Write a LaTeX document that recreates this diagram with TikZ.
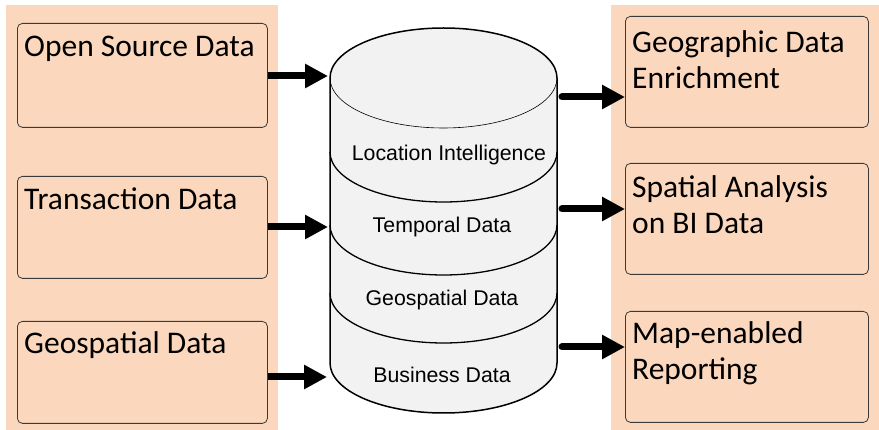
\documentclass[tikz,border=0pt]{standalone}
\usepackage{fontspec}
\setmainfont{Carlito}
\newfontfamily\cylfont{Liberation Sans}
\usetikzlibrary{arrows.meta}
\definecolor{peach}{HTML}{FBD8BD}
\definecolor{drum}{HTML}{F2F2F2}
\definecolor{edge}{HTML}{3A3A3A}
\begin{document}
\begin{tikzpicture}[x=1pt,y=-1pt,
  panel/.style={fill=peach,draw=none},
  srcbox/.style={draw=edge,line width=0.8pt,rounded corners=5pt,fill=peach,
                 minimum width=#1,anchor=north west,inner sep=0pt},
  boxtext/.style={font=\fontsize{31.5}{36.5}\selectfont,anchor=base west,align=left,inner sep=0pt},
  cyltext/.style={font=\cylfont\fontsize{21.3}{25}\selectfont,inner sep=0pt},
  fatarrow/.style={line width=7pt,-{Triangle[length=23pt,width=23pt]}},
  band/.style={line width=1.3pt,draw=black}]
\useasboundingbox (0,0) rectangle (879,430);
\fill[white] (0,0) rectangle (879,430);
% side panels
\path[panel] (6,5) rectangle (278,430);
\path[panel] (611,5) rectangle (879,430);

% input sources
\node[srcbox=250pt,minimum height=104pt] (open) at (17,23) {};
\node[srcbox=250pt,minimum height=102pt] (trans) at (17,176) {};
\node[srcbox=250pt,minimum height=102pt] (geo) at (17,321) {};
\node[boxtext] (opent) at (24,57) {Open Source Data};
\node[boxtext] (transt) at (24,210) {Transaction Data};
\node[boxtext] (geot) at (24,354) {Geospatial Data};

% outputs (multi-line texts are placed by the baseline of their last line)
\node[srcbox=243pt,minimum height=111pt] (enrich) at (625,16) {};
\node[srcbox=243pt,minimum height=111pt] (spatial) at (625,163) {};
\node[srcbox=243pt,minimum height=111pt] (report) at (625,311) {};
\node[boxtext] (enricht) at (632,89) {Geographic Data\\Enrichment};
\node[boxtext] (spatialt) at (632,234) {Spatial Analysis\\on BI Data};
\node[boxtext] (reportt) at (632,380) {Map-enabled\\Reporting};

% the data store cylinder
\coordinate (cyl) at (443.5,78);
\path[fill=drum,draw=black,line width=1.5pt]
  (330,78) -- (330,363) arc[start angle=180,end angle=360,x radius=113.5pt,y radius=50pt]
  -- (557,78) arc[start angle=0,end angle=180,x radius=113.5pt,y radius=50pt] -- cycle;
\draw[line width=0.6pt] (330,78) arc[start angle=180,end angle=360,x radius=113.5pt,y radius=50pt];
\draw[band] (330,152) arc[start angle=180,end angle=360,x radius=113.5pt,y radius=50pt];
\draw[band] (330,225) arc[start angle=180,end angle=360,x radius=113.5pt,y radius=50pt];
\draw[band] (330,293) arc[start angle=180,end angle=360,x radius=113.5pt,y radius=50pt];
\node[cyltext] (li) at (449,155) {Location Intelligence};
\node[cyltext] (temp) at (442,227) {Temporal Data};
\node[cyltext] (geod) at (442,300) {Geospatial Data};
\node[cyltext] (bus) at (442,375) {Business Data};

% arrow end points on the cylinder walls
\coordinate (inA) at (328,76);
\coordinate (inB) at (328,227);
\coordinate (inC) at (327,377);
\coordinate (outA) at (562,97);
\coordinate (outB) at (562,209);
\coordinate (outC) at (562,347);

\draw[fatarrow] (open.east |- inA) -- (inA);
\draw[fatarrow] (trans.east |- inB) -- (inB);
\draw[fatarrow] (geo.east |- inC) -- (inC);
\draw[fatarrow,line cap=round] (outA) -- (enrich.west |- outA);
\draw[fatarrow,line cap=round] (outB) -- (spatial.west |- outB);
\draw[fatarrow,line cap=round] (outC) -- (report.west |- outC);
\end{tikzpicture}
\end{document}
